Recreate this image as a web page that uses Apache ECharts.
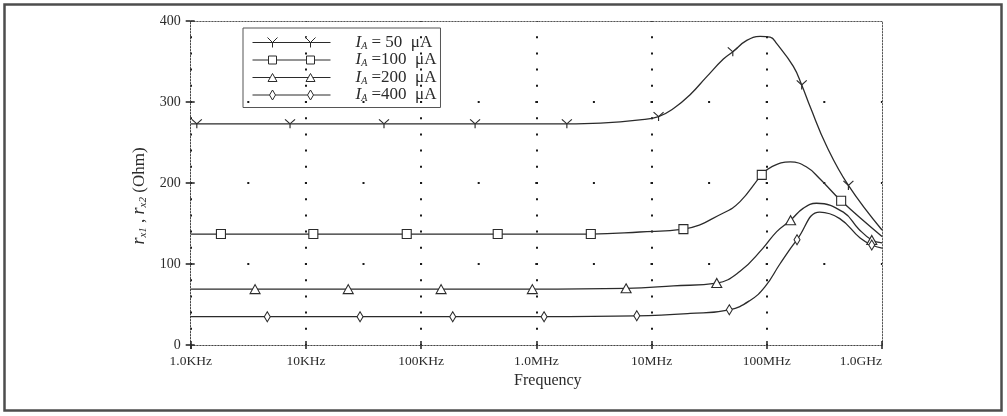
<!DOCTYPE html>
<html>
<head>
<meta charset="utf-8">
<script src="https://cdn.jsdelivr.net/npm/echarts@6/dist/echarts.min.js"></script>
<style>
  html, body { margin: 0; padding: 0; background: #fff; }
  #chart { width: 1007px; height: 416px; }
</style>
</head>
<body>
<div id="chart"></div>
<script>
// Decade tick labels of the frequency axis (1 kHz ... 1 GHz)
const freqLabels = ['1.0KHz', '10KHz', '100KHz', '1.0MHz', '10MHz', '100MHz', '1.0GHz'];
const currents = ['50', '100', '200', '400'];

// Each point: [frequency in Hz, resistance in Ohm, 1 = a marker is drawn here]
const ia50 = [
  [1.0e3, 273, 0], [1.13e3, 273, 1], [7.28e3, 273, 1], [4.76e4, 273, 1], [2.94e5, 273, 1],
  [1.84e6, 273, 1], [3.6e6, 274, 0], [7.9e6, 278, 0], [1.15e7, 282, 1], [1.55e7, 292, 0],
  [2.16e7, 309, 0], [3.0e7, 331, 0], [4.2e7, 353, 0], [5.07e7, 362, 1], [6.7e7, 376, 0],
  [8.75e7, 381, 0], [1.07e8, 380, 0], [1.22e8, 372, 0], [1.7e8, 344, 0], [2.01e8, 321, 1],
  [2.38e8, 294, 0], [3.32e8, 245, 0], [5.11e8, 197, 1], [1.0e9, 142, 0]
];
const ia100 = [
  [1.0e3, 137, 0], [1.83e3, 137, 1], [1.16e4, 137, 1], [7.5e4, 137, 1], [4.62e5, 137, 1],
  [2.97e6, 137, 1], [7.9e6, 139.5, 0], [1.89e7, 143, 1], [4.2e7, 163, 0], [5.86e7, 177, 0],
  [9.05e7, 210, 1], [1.1e8, 220, 0], [1.6e8, 226, 0], [2.2e8, 220, 0], [2.9e8, 205, 0],
  [4.42e8, 178, 1], [1.0e9, 134, 0]
];
const ia200 = [
  [1.0e3, 69, 0], [3.62e3, 69, 1], [2.33e4, 69, 1], [1.49e5, 69, 1], [9.23e5, 69, 1],
  [6.01e6, 70, 1], [1.55e7, 73, 0], [3.68e7, 76.5, 1], [5.86e7, 91, 0], [9.2e7, 119, 0],
  [1.22e8, 140, 0], [1.61e8, 154, 1], [2.08e8, 169, 0], [2.7e8, 175, 0], [4.62e8, 164, 0],
  [6.3e8, 143, 0], [8.15e8, 129.6, 1], [1.0e9, 126, 0]
];
const ia400 = [
  [1.0e3, 35, 0], [4.62e3, 35, 1], [2.95e4, 35, 1], [1.88e5, 35, 1], [1.167e6, 35, 1],
  [7.44e6, 36, 1], [2.16e7, 39, 0], [4.73e7, 43.5, 1], [7.16e7, 55, 0], [9.67e7, 72, 0],
  [1.3e8, 100, 0], [1.83e8, 130, 1], [2.88e8, 164, 0], [4.3e8, 156, 0], [6.46e8, 132, 0],
  [8.15e8, 123.5, 1], [1.0e9, 119.5, 0]
];

const curves = [ia50, ia100, ia200, ia400];

const serif = "'Liberation Serif', 'DejaVu Serif', serif";
const ink = '#2b2b2b';

// Marker shapes for the four bias currents
const markerShapes = [
  { symbol: 'path://M0,0 L5,5 L10,0 M5,5 L5,10', size: [10, 9], fill: 'rgba(0,0,0,0)' },
  { symbol: 'path://M0,0 L10,0 L10,10 L0,10 Z', size: 9, fill: '#fff' },
  { symbol: 'path://M5,0 L10,9 L0,9 Z', size: [10, 9], fill: '#fff' },
  { symbol: 'path://M3.5,0 L7,5 L3.5,10 L0,5 Z', size: [6, 10], fill: '#fff' }
];

// Legend samples: a short line carrying two markers
const legendIcons = [
  'path://M0,5 L78,5 M15,0 L20,5 L25,0 M20,5 L20,10 M53,0 L58,5 L63,0 M58,5 L58,10',
  'path://M0,5 L16,5 M24,5 L54,5 M62,5 L78,5 M16,1 L24,1 L24,9 L16,9 Z M54,1 L62,1 L62,9 L54,9 Z',
  'path://M0,5 L17.6,5 M22.4,5 L55.6,5 M60.4,5 L78,5 M20,1 L24.5,9 L15.5,9 Z M58,1 L62.5,9 L53.5,9 Z',
  'path://M0,5 L17,5 M23,5 L55,5 M61,5 L78,5 M20,0 L23,5 L20,10 L17,5 Z M58,0 L61,5 L58,10 L55,5 Z'
];

const series = curves.map((pts, i) => ({
  name: currents[i],
  type: 'line',
  smooth: 0.45,
  symbol: markerShapes[i].symbol,
  symbolSize: markerShapes[i].size,
  showSymbol: true,
  xAxisIndex: 0,
  yAxisIndex: 0,
  lineStyle: { color: ink, width: 1.3 },
  itemStyle: { color: markerShapes[i].fill, borderColor: ink, borderWidth: 1.1 },
  emphasis: { disabled: true },
  z: 3,
  data: pts.map(p => p[2] ? [p[0], p[1]] : { value: [p[0], p[1]], symbol: 'none' })
}));

const labelFor = v => freqLabels[Math.round(Math.log10(v)) - 3];

const option = {
  animation: false,
  backgroundColor: '#fff',
  grid: { left: 190.7, top: 21, width: 691.3, height: 324 },
  graphic: [{
    type: 'rect', silent: true,
    shape: { x: 4.5, y: 4.5, width: 997, height: 406 },
    style: { fill: 'none', stroke: '#4d4d4d', lineWidth: 2.5 }
  }],
  legend: {
    orient: 'vertical',
    left: 243, top: 28,
    padding: [6, 4, 4, 9],
    itemWidth: 78, itemHeight: 10, itemGap: 0.5,
    borderColor: '#555', borderWidth: 1,
    selectedMode: false,
    itemStyle: { color: '#fff', borderColor: ink, borderWidth: 1 },
    data: currents.map((c, i) => ({ name: c, icon: legendIcons[i] })),
    formatter: name => '{i|I}{s|A}{t|' + (name.length < 3 ? ' = ' : ' =') + name + '  \u03bcA}',
    textStyle: {
      fontFamily: serif, color: ink, fontSize: 17, lineHeight: 16,
      rich: {
        i: { fontFamily: serif, fontStyle: 'italic', fontSize: 17, lineHeight: 16, color: ink, padding: [0, 0, 0, 20] },
        s: { fontFamily: serif, fontStyle: 'italic', fontSize: 10, lineHeight: 10, color: ink, padding: [7, 0, 0, 0] },
        t: { fontFamily: serif, fontSize: 17, lineHeight: 16, color: ink }
      }
    }
  },
  xAxis: [
    {
      type: 'log', logBase: 10, min: 1e3, max: 1e9,
      position: 'bottom',
      name: 'Frequency', nameLocation: 'middle', nameGap: 22,
      nameTextStyle: { fontFamily: serif, fontSize: 16, color: ink, padding: [0, 0, 0, 23] },
      axisLine: { show: true, onZero: false, lineStyle: { color: '#444', width: 1, type: [1.5, 1.5] } },
      axisTick: { show: true, inside: true, length: 4, lineStyle: { color: ink, width: 1.6 } },
      minorTick: { show: false },
      axisLabel: {
        margin: 9, fontFamily: serif, fontSize: 13.5, color: ink,
        alignMaxLabel: 'right',
        formatter: (v, idx) => idx === 0 ? '{first|' + labelFor(v) + '}' : labelFor(v),
        rich: { first: { fontFamily: serif, fontSize: 13.5, color: ink, padding: [0, 0, 0, 19] } }
      },
      splitLine: {
        show: true, showMinLine: false, showMaxLine: false,
        lineStyle: { color: '#1a1a1a', width: 2, type: [2, 14.2], dashOffset: 1 }
      }
    },
    {
      type: 'log', logBase: 10, min: 1e3, max: 1e9,
      position: 'bottom',
      axisLine: { show: false, onZero: false },
      axisTick: { show: true, inside: false, length: 4, lineStyle: { color: ink, width: 1.6 } },
      axisLabel: { show: false },
      splitLine: { show: false }
    },
    {
      type: 'log', logBase: 10, min: 1e3, max: 1e9,
      position: 'top',
      axisLine: { show: true, onZero: false, lineStyle: { color: '#555', width: 1, type: [1.5, 1.5] } },
      axisTick: { show: false },
      axisLabel: { show: false },
      splitLine: { show: false }
    }
  ],
  yAxis: [
    {
      type: 'value', min: 0, max: 400, interval: 100,
      position: 'left',
      name: '{r|r}{s|x1}{c| , }{r|r}{s|x2}{c| (Ohm)}',
      nameLocation: 'middle', nameRotate: 90, nameGap: 35,
      nameTextStyle: {
        padding: [0, 26, 0, 0],
        rich: {
          r: { fontFamily: serif, fontStyle: 'italic', fontSize: 18, color: ink },
          s: { fontFamily: serif, fontStyle: 'italic', fontSize: 11, color: ink, padding: [8, 0, 0, 0] },
          c: { fontFamily: serif, fontSize: 17, color: ink }
        }
      },
      axisLine: { show: true, onZero: false, lineStyle: { color: '#444', width: 1, type: [1.5, 1.5] } },
      axisTick: { show: true, inside: false, length: 5, lineStyle: { color: ink, width: 1.6 } },
      axisLabel: { margin: 10, fontFamily: serif, fontSize: 14, color: ink },
      splitLine: {
        show: true, showMinLine: false, showMaxLine: false,
        lineStyle: { color: '#1a1a1a', width: 2, type: [2, 55.6], dashOffset: 1 }
      }
    },
    {
      type: 'value', min: 0, max: 400, interval: 100,
      position: 'left',
      axisLine: { show: false, onZero: false },
      axisTick: { show: true, inside: true, length: 4, lineStyle: { color: ink, width: 1.6 } },
      axisLabel: { show: false },
      splitLine: { show: false }
    },
    {
      type: 'value', min: 0, max: 400, interval: 100,
      position: 'right',
      axisLine: { show: true, onZero: false, lineStyle: { color: '#555', width: 1, type: [1.5, 1.5] } },
      axisTick: { show: false },
      axisLabel: { show: false },
      splitLine: { show: false }
    }
  ],
  series: series
};

const chart = echarts.init(document.getElementById('chart'), null, { renderer: 'canvas' });
chart.setOption(option);
</script>
</body>
</html>
